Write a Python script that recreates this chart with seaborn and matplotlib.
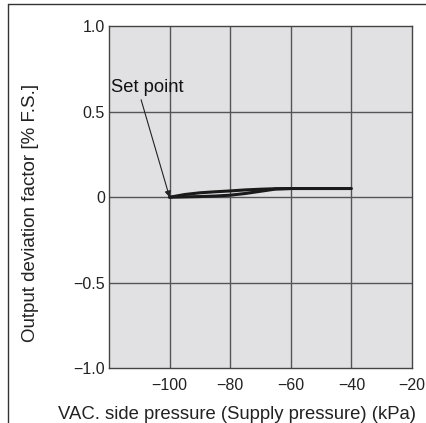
import numpy as np
import pandas as pd
import matplotlib
matplotlib.use("Agg")
import matplotlib.pyplot as plt
import seaborn as sns
from matplotlib.lines import Line2D

# Kriva - gornja grana (pritisak raste)
upper_x = [-100, -95, -90, -85, -80, -75, -70, -65, -60, -50, -40]
upper_y = [0.0, 0.016, 0.026, 0.032, 0.037, 0.043, 0.047, 0.050, 0.051, 0.051, 0.051]
# Kriva - donja grana (pritisak opada)
lower_x = [-100, -95, -90, -85, -80, -75, -70, -65, -60]
lower_y = [0.0, 0.002, 0.004, 0.007, 0.012, 0.022, 0.035, 0.048, 0.051]

x_ticks = [-100, -80, -60, -40, -20]
x_tick_labels = ["\u2212100", "\u221280", "\u221260", "\u221240", "\u221220"]
y_ticks = [-1.0, -0.5, 0, 0.5, 1.0]
y_tick_labels = ["\u22121.0", "\u22120.5", "0", "0.5", "1.0"]

sns.set_style("white", {"axes.facecolor": "#e1e1e3", "axes.edgecolor": "#333333"})
plt.rcParams["font.family"] = ["Liberation Sans", "DejaVu Sans"]

df = pd.concat([
    pd.DataFrame({"p": upper_x, "dev": upper_y, "grana": "gore"}),
    pd.DataFrame({"p": lower_x, "dev": lower_y, "grana": "dole"}),
])

fig = plt.figure(figsize=(4.27, 4.23), dpi=100)
ax = fig.add_axes([0.2553, 0.130, 0.7096, 0.8074])

for x in [-100, -80, -60, -40]:
    ax.axvline(x, color="#555555", lw=1.0, zorder=1)
for y in [-0.5, 0, 0.5]:
    ax.axhline(y, color="#555555", lw=1.0, zorder=1)

sns.lineplot(data=df, x="p", y="dev", units="grana", estimator=None, sort=False,
             color="#1a1a1a", lw=2.2, ax=ax, zorder=3, legend=False)

ax.set_xlim(-120, -20)
ax.set_ylim(-1.0, 1.0)
ax.set_xticks(x_ticks)
ax.set_xticklabels(x_tick_labels)
ax.set_yticks(y_ticks)
ax.set_yticklabels(y_tick_labels)
ax.tick_params(length=0, labelsize=11.5, colors="#222222")
ax.tick_params(axis="x", pad=7)
ax.tick_params(axis="y", pad=3)
for s in ax.spines.values():
    s.set_linewidth(1.0)
    s.set_color("#444444")

ax.set_xlabel("VAC. side pressure (Supply pressure) (kPa)", fontsize=13.3, color="#222222")
ax.set_ylabel("Output deviation factor [% F.S.]", fontsize=13.5, color="#222222")
ax.xaxis.set_label_coords(0.4224, -0.110)
ax.yaxis.set_label_coords(-0.231, 0.453)

ax.annotate("Set point", xy=(-100, 0.0), xytext=(-119.3, 0.64),
            fontsize=13.2, va="center", ha="left", color="#111111",
            arrowprops=dict(arrowstyle="-|>", color="#222222", lw=0.8,
                            shrinkA=0, shrinkB=0, mutation_scale=9,
                            relpos=(0.4, 0.0)))

# Spoljni okvir
fig.add_artist(Line2D([8 / 427, 8 / 427], [0, 1 - 4 / 423], transform=fig.transFigure,
                      color="#333333", lw=1.0))
fig.add_artist(Line2D([8 / 427, 1], [1 - 4 / 423, 1 - 4 / 423], transform=fig.transFigure,
                      color="#333333", lw=1.0))

fig.savefig("out.png", dpi=100)
